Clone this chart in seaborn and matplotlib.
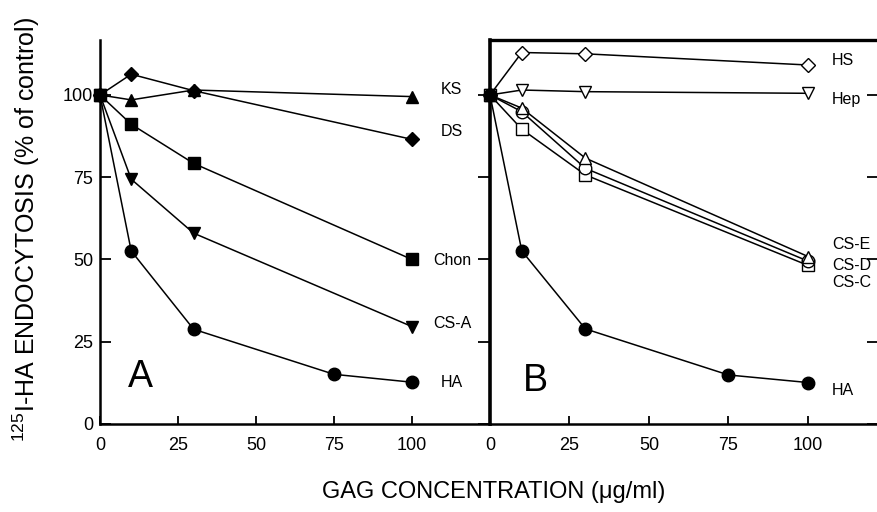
import matplotlib
matplotlib.use("Agg")
import matplotlib.pyplot as plt
import seaborn as sns
import pandas as pd

sns.set_theme(style="white")
plt.rcParams['font.family'] = ['Liberation Sans', 'DejaVu Sans']
plt.rcParams['mathtext.fontset'] = 'custom'
plt.rcParams['mathtext.rm'] = 'Liberation Sans'
plt.rcParams['text.color'] = 'black'
plt.rcParams['axes.labelcolor'] = 'black'
plt.rcParams['xtick.color'] = 'black'
plt.rcParams['ytick.color'] = 'black'

# ---- data (panel A) ----
a_ks_x = [0, 10, 30, 100]
a_ks_y = [100, 98.5, 101.5, 99.5]
a_ds_x = [0, 10, 30, 100]
a_ds_y = [100, 106.3, 101.3, 86.5]
a_chon_x = [0, 10, 30, 100]
a_chon_y = [100, 91.1, 79.2, 50.0]
a_csa_x = [0, 10, 30, 100]
a_csa_y = [100, 74.4, 58.0, 29.6]
a_ha_x = [0, 10, 30, 75, 100]
a_ha_y = [100, 52.6, 28.8, 15.1, 12.7]

# ---- data (panel B) ----
b_hs_x = [0, 10, 30, 100]
b_hs_y = [100, 112.9, 112.5, 109.1]
b_hep_x = [0, 10, 30, 100]
b_hep_y = [100, 101.5, 101.0, 100.5]
b_cse_x = [0, 10, 30, 100]
b_cse_y = [100, 96.0, 80.8, 50.9]
b_csd_x = [0, 10, 30, 100]
b_csd_y = [100, 94.9, 77.7, 49.5]
b_csc_x = [0, 10, 30, 100]
b_csc_y = [100, 89.6, 75.7, 48.2]
b_ha_x = [0, 10, 30, 75, 100]
b_ha_y = [100, 52.6, 28.9, 14.9, 12.6]

x_ticks = [0, 25, 50, 75, 100]
y_ticks = [0, 25, 50, 75, 100]

series_a = [
    ("KS", a_ks_x, a_ks_y, "^", True, 101.8),
    ("DS", a_ds_x, a_ds_y, "D", True, 88.8),
    ("Chon", a_chon_x, a_chon_y, "s", True, 49.6),
    ("CS-A", a_csa_x, a_csa_y, "v", True, 30.6),
    ("HA", a_ha_x, a_ha_y, "o", True, 12.7),
]
series_b = [
    ("HS", b_hs_x, b_hs_y, "D", False, 110.6),
    ("Hep", b_hep_x, b_hep_y, "v", False, 98.5),
    ("CS-C", b_csc_x, b_csc_y, "s", False, 42.9),
    ("CS-D", b_csd_x, b_csd_y, "o", False, 48.3),
    ("CS-E", b_cse_x, b_cse_y, "^", False, 54.4),
    ("HA", b_ha_x, b_ha_y, "o", True, 10.3),
]

fig = plt.figure(figsize=(8.77, 5.12), dpi=100)
axA = fig.add_axes([100/877, 88/512, 390/877, 384/512])
axB = fig.add_axes([490/877, 88/512, 387/877, 384/512])

def draw(ax, series, label_x, ha):
    for name, xs, ys, mk, filled, ly in series:
        df = pd.DataFrame({"x": xs, "y": ys})
        ms = 9
        if mk == "D":
            ms = 7.5
        sns.lineplot(data=df, x="x", y="y", ax=ax, color="black", lw=1.1,
                     marker=mk, markersize=ms,
                     markerfacecolor="black" if filled else "white",
                     markeredgecolor="black", markeredgewidth=1.0,
                     clip_on=False, zorder=3)
        ax.text(label_x, ly, name, fontsize=11.5, va="center", ha=ha, color="black")

draw(axA, series_a, 112.8, "center")
draw(axB, series_b, 107.6, "left")

axA.set_xlim(0, 125)
axB.set_xlim(0, 121.7)
for ax in (axA, axB):
    ax.set_ylim(0, 116.7)
    ax.set_xticks(x_ticks)
    ax.set_xticklabels([str(t) for t in x_ticks], fontsize=13)
    ax.set_xlabel("")
    ax.set_ylabel("")
    ax.tick_params(axis="x", direction="in", length=6, width=1.3, colors="black",
                   bottom=True, top=False, pad=9)
    ax.set_yticks(y_ticks)
    ax.set_facecolor("none")

axA.set_yticklabels([str(t) for t in y_ticks], fontsize=13)
axA.tick_params(axis="y", direction="in", length=8, width=1.3, left=True, right=False,
                labelleft=True, colors="black", pad=5)
axB.tick_params(axis="y", direction="out", length=9, width=1.3, left=True, right=False,
                labelleft=False, colors="black")

# inward ticks on the right edge of panel B
axB2 = axB.twinx()
axB2.set_ylim(0, 116.7)
axB2.set_yticks(y_ticks)
axB2.tick_params(axis="y", direction="in", length=7, width=1.3, right=True,
                 labelright=False, colors="black")
for s in axB2.spines.values():
    s.set_visible(False)

axA.spines["top"].set_visible(False)
axA.spines["right"].set_visible(False)
axA.spines["left"].set_linewidth(1.8)
axA.spines["bottom"].set_linewidth(1.8)
for s in ["left", "bottom"]:
    axA.spines[s].set_color("black")

axB.spines["right"].set_visible(False)
axB.spines["left"].set_linewidth(2.6)
axB.spines["top"].set_linewidth(2.4)
axB.spines["bottom"].set_linewidth(1.8)
for s in ["left", "top", "bottom"]:
    axB.spines[s].set_color("black")

axA.text(13, 14.3, "A", fontsize=27, ha="center", va="center")
axB.text(14.2, 13.2, "B", fontsize=27, ha="center", va="center")

fig.text(494/877, 1 - 492/512, "GAG CONCENTRATION (\u03bcg/ml)", fontsize=17,
         ha="center", va="center")
fig.text(26/877, 1 - 229/512, r"$^{125}$I-HA ENDOCYTOSIS (% of control)", fontsize=18,
         rotation=90, ha="center", va="center")

fig.savefig("out.png", dpi=100)
